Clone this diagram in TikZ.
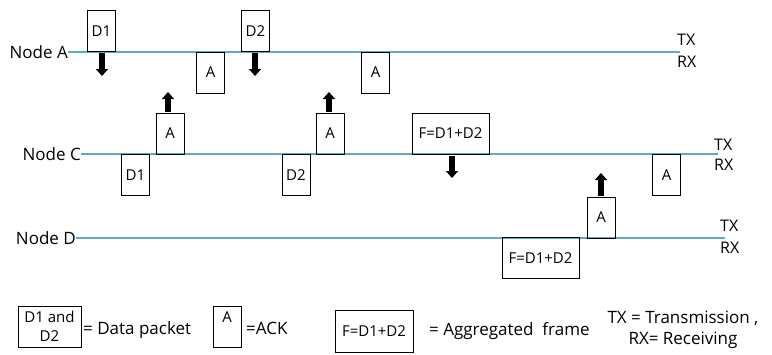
\documentclass[tikz,border=0pt]{standalone}
\usepackage{fontspec}
\setmainfont{Open Sans}
\usetikzlibrary{arrows.meta}
\definecolor{linkblue}{RGB}{96,168,200}
\tikzset{
  timeline/.style={draw=linkblue, line width=1.5pt},
  pkt/.style={draw=black, line width=1pt, inner sep=0pt, minimum height=41pt,
              font=\fontsize{15}{17}\selectfont},
  narrowpkt/.style={pkt, minimum width=28pt},
  widepkt/.style={pkt, minimum width=77pt},
  lbl/.style={inner sep=0pt, font=\fontsize{17}{20}\selectfont},
  txrx/.style={inner sep=0pt, anchor=west, font=\fontsize{16}{18}\selectfont},
  fatarrow/.style={line width=5.5pt, -{Triangle[length=7pt,width=12pt]}, shorten <=1pt}
}
\begin{document}
\begin{tikzpicture}[x=1pt,y=-1pt]
\useasboundingbox (0,0) rectangle (772,354);

% station labels and time lines
\node[lbl, anchor=east] (nA) at (68,52) {Node A};
\node[lbl, anchor=east] (nC) at (81,154) {Node C};
\node[lbl, anchor=east] (nD) at (76,238) {Node D};
\coordinate (eA) at (680,52);
\coordinate (eC) at (718,154);
\coordinate (eD) at (725,238);
\draw[timeline] (nA.east) -- (eA);
\draw[timeline] (nC.east) -- (eC);
\draw[timeline] (nD.east) -- (eD);

\node[txrx] (txA) at (677,40) {TX};
\node[txrx] (rxA) at (677,62) {RX};
\node[txrx] (txC) at (714,145) {TX};
\node[txrx] (rxC) at (714,165) {RX};
\node[txrx] (txD) at (720,226) {TX};
\node[txrx] (rxD) at (720,248) {RX};

% Node A frames
\node[narrowpkt] (d1a) at (101.5,31) {D1};
\node[narrowpkt] (ack1a) at (210.5,72.5) {A};
\node[narrowpkt] (d2a) at (255.5,31) {D2};
\node[narrowpkt] (ack2a) at (375.5,72.5) {A};

% Node C frames
\node[narrowpkt] (d1c) at (135.5,175) {D1};
\node[narrowpkt] (ack1c) at (170,133.5) {A};
\node[narrowpkt] (d2c) at (296,175) {D2};
\node[narrowpkt] (ack2c) at (330,133.5) {A};
\node[widepkt] (fc) at (450.5,133.5) {F=D1+D2};
\node[narrowpkt] (ack3c) at (666.5,175) {A};

% Node D frames
\node[widepkt] (fd) at (540.5,258) {F=D1+D2};
\node[narrowpkt] (ackd) at (601,217.5) {A};

% transmission arrows
\coordinate (t1) at (102,76);
\coordinate (t2) at (255,76);
\coordinate (t3) at (168,92);
\coordinate (t4) at (329,92);
\coordinate (t5) at (452,178);
\coordinate (t6) at (601,173);
\draw[fatarrow] (d1a.south -| t1) -- (t1);
\draw[fatarrow] (d2a.south -| t2) -- (t2);
\draw[fatarrow] (ack1c.north -| t3) -- (t3);
\draw[fatarrow] (ack2c.north -| t4) -- (t4);
\draw[fatarrow] (fc.south -| t5) -- (t5);
\draw[fatarrow] (ackd.north -| t6) -- (t6);

% legend
\node[pkt, minimum width=63pt, align=center, font=\fontsize{15}{19}\selectfont] (kd) at (49.5,326.5) {D1 and\\D2};
\node[lbl, anchor=west] (kdt) at (83,330) {= Data packet};
\node[narrowpkt] (ka) at (227,326.5) {};
\node[inner sep=0pt, font=\fontsize{15}{17}\selectfont] (kat) at (227,317) {A};
\node[lbl, anchor=west] (kak) at (246,328) {=ACK};
\node[pkt, minimum width=78pt, minimum height=42pt] (kf) at (374,331) {F=D1+D2};
\node[lbl, anchor=west] (kft) at (429,331) {= Aggregated\ \ frame};
\node[lbl, align=center, font=\fontsize{17}{21}\selectfont] (ktr) at (683,330) {TX = Transmission ,\\RX= Receiving};
\end{tikzpicture}
\end{document}
